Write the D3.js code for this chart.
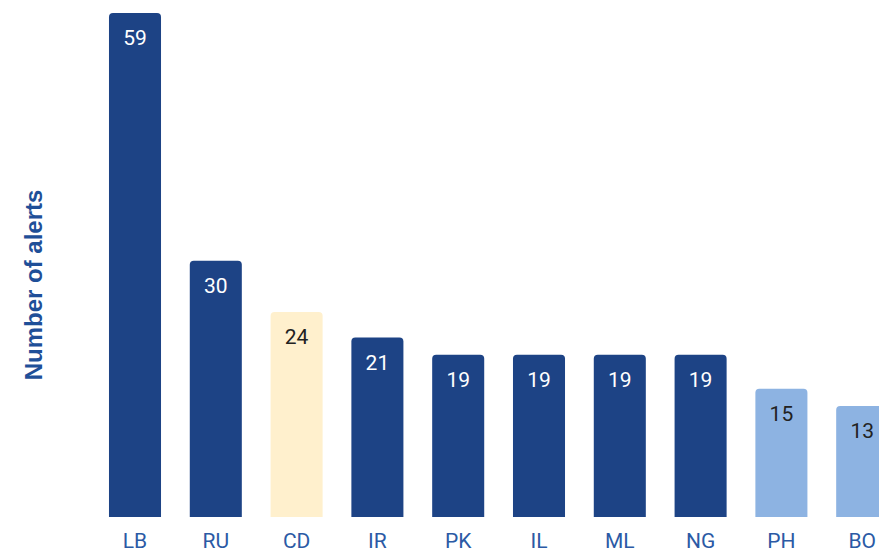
<!DOCTYPE html>
<html><head><meta charset="utf-8">
<script src="https://cdn.jsdelivr.net/npm/d3@7"></script>
<style>html,body{margin:0;padding:0;background:#fff;overflow:hidden}</style>
</head><body>
<svg id="c" width="879" height="554"></svg>
<script>
const categories = ["LB","RU","CD","IR","PK","IL","ML","NG","PH","BO"];
const values = [59,30,24,21,19,19,19,19,15,13];
const groups = ["dark","dark","yellow","dark","dark","dark","dark","dark","light","light"];
const colorMap = {dark:"#1d4385", yellow:"#fff0cd", light:"#8db3e2"};
const textColorMap = {dark:"#ffffff", yellow:"#222222", light:"#222222"};

const svg = d3.select("#c");
const x = d3.scaleBand().domain(categories).range([94.6, 902.6]).paddingInner(0.356).paddingOuter(0.178);
const y = d3.scaleLinear().domain([0, 59]).range([517, 13]);

function topRounded(x0, y0, w, h, r) {
  r = Math.min(r, h, w/2);
  return `M${x0},${y0+h}V${y0+r}Q${x0},${y0} ${x0+r},${y0}H${x0+w-r}Q${x0+w},${y0} ${x0+w},${y0+r}V${y0+h}Z`;
}

const data = categories.map((c,i)=>({c, v:values[i], g:groups[i]}));
svg.selectAll("path.bar").data(data).join("path").attr("class","bar")
  .attr("d", d => topRounded(x(d.c), y(d.v), x.bandwidth(), y(0)-y(d.v), 4))
  .attr("fill", d => colorMap[d.g]);

svg.selectAll("text.val").data(data).join("text").attr("class","val")
  .attr("x", d => x(d.c) + x.bandwidth()/2)
  .attr("y", d => y(d.v) + 32)
  .attr("text-anchor","middle")
  .attr("font-family","Roboto, sans-serif")
  .attr("font-size", 21)
  .attr("fill", d => textColorMap[d.g])
  .text(d => d.v);

const xAxis = svg.append("g").attr("transform","translate(0,517)")
  .call(d3.axisBottom(x).tickSize(0).tickPadding(16));
xAxis.select(".domain").remove();
xAxis.selectAll("text").attr("font-family","Roboto, sans-serif").attr("font-size",21).attr("fill","#2b5aa5");

svg.append("text")
  .attr("transform","translate(42,285) rotate(-90)")
  .attr("text-anchor","middle")
  .attr("font-family","Liberation Sans, Arial, sans-serif")
  .attr("font-weight","bold")
  .attr("font-size",24)
  .attr("fill","#1f4f98")
  .text("Number of alerts");
</script>
</body></html>
